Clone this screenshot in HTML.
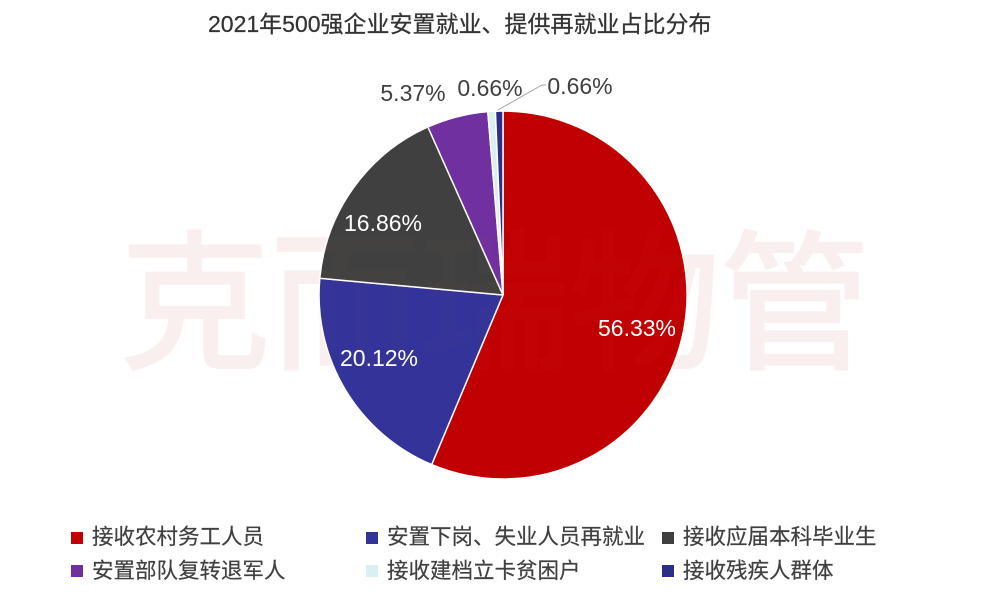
<!DOCTYPE html>
<html>
<head>
<meta charset="utf-8">
<style>
html,body{margin:0;padding:0;background:#fff;}
svg{display:block;}
text{font-family:"Liberation Sans","Noto Sans CJK SC",sans-serif;}
</style>
</head>
<body>
<svg width="1007" height="599" viewBox="0 0 1007 599" xmlns="http://www.w3.org/2000/svg">
  <rect width="1007" height="599" fill="#fff"/>
  <!-- title -->
  <text x="208" y="32" font-size="23" fill="#333" stroke="#333" stroke-width="0.25">2021年500强企业安置就业、提供再就业占比分布</text>

  <!-- watermark (behind) -->
  <g opacity="0.05">
    <text x="120" y="357" font-size="150" fill="rgb(200,40,40)" stroke="rgb(200,40,40)" stroke-width="3" font-family="'Noto Sans CJK SC',sans-serif">克而瑞物管</text>
  </g>

  <!-- pie -->
  <g stroke="#fff" stroke-width="1.5" stroke-linejoin="round">
    <path d="M503,295 L503,111 A184,184 0 1,1 431.7,464.6 Z" fill="#C00000"/>
    <path d="M503,295 L431.7,464.6 A184,184 0 0,1 319.8,278.3 Z" fill="#333399"/>
    <path d="M503,295 L319.8,278.3 A184,184 0 0,1 427.9,127.0 Z" fill="#404040"/>
    <path d="M503,295 L427.9,127.0 A184,184 0 0,1 487.8,111.6 Z" fill="#7030A0"/>
    <path d="M503,295 L487.8,111.6 A184,184 0 0,1 495.4,111.2 Z" fill="#DAEEF3"/>
    <path d="M503,295 L495.4,111.2 A184,184 0 0,1 503,111 Z" fill="#2E2E88"/>
  </g>

  <!-- faint watermark overlay on pie -->
  <g opacity="0.025">
    <text x="120" y="357" font-size="150" fill="rgb(230,120,120)" stroke="rgb(230,120,120)" stroke-width="3" font-family="'Noto Sans CJK SC',sans-serif">克而瑞物管</text>
  </g>

  <!-- leader line -->
  <polyline points="498,110 542,85 546,85" fill="none" stroke="#a6a6a6" stroke-width="1"/>

  <!-- labels -->
  <g font-size="23" text-anchor="middle">
    <text x="637" y="336" fill="#fff">56.33%</text>
    <text x="379" y="366" fill="#fff">20.12%</text>
    <text x="383" y="231" fill="#fff">16.86%</text>
    <text x="413" y="101" fill="#404040">5.37%</text>
    <text x="490" y="96" fill="#404040">0.66%</text>
    <text x="580" y="94" fill="#404040">0.66%</text>
  </g>

  <!-- legend -->
  <g font-size="21.5" fill="#404040" stroke="#404040" stroke-width="0.2">
    <rect x="71" y="532" width="12" height="12" fill="#C00000" stroke="none"/>
    <text x="92" y="544">接收农村务工人员</text>
    <rect x="366" y="532" width="12" height="12" fill="#333399" stroke="none"/>
    <text x="387" y="544">安置下岗、失业人员再就业</text>
    <rect x="662" y="532" width="12" height="12" fill="#404040" stroke="none"/>
    <text x="683" y="544">接收应届本科毕业生</text>

    <rect x="71" y="565" width="12" height="12" fill="#7030A0" stroke="none"/>
    <text x="92" y="578">安置部队复转退军人</text>
    <rect x="366" y="565" width="12" height="12" fill="#DAEEF3" stroke="none"/>
    <text x="387" y="578">接收建档立卡贫困户</text>
    <rect x="662" y="565" width="12" height="12" fill="#2E2E88" stroke="none"/>
    <text x="683" y="578">接收残疾人群体</text>
  </g>
</svg>
</body>
</html>
